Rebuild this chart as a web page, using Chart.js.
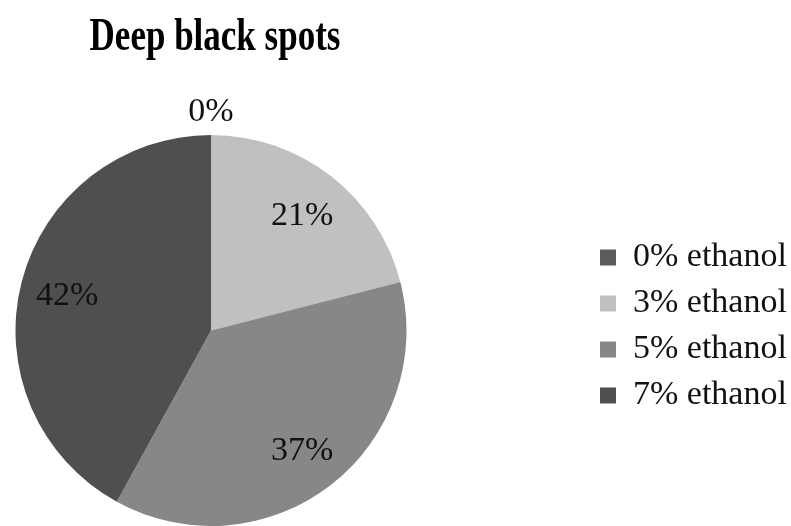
<!DOCTYPE html>
<html>
<head>
<meta charset="utf-8">
<script src="https://cdn.jsdelivr.net/npm/chart.js@4.4.0/dist/chart.umd.min.js"></script>
<style>
html,body{margin:0;padding:0;background:#fff;}
#wrap{width:791px;height:526px;}
</style>
</head>
<body>
<div id="wrap"><canvas id="myChart" width="791" height="526"></canvas></div>
<script>
const labels=["0% ethanol","3% ethanol","5% ethanol","7% ethanol"];
const shares=[0,21,37,42];
const sliceColors=["#5c5c5c","#c0c0c0","#878787","#4f4f4f"];

// percent text on each slice (the empty one sits above the pie)
const pctLabels={
  id:'pctLabels',
  afterDatasetsDraw(chart){
    const ctx=chart.ctx;
    const meta=chart.getDatasetMeta(0);
    ctx.save();
    ctx.font='34px "Liberation Serif"';
    ctx.fillStyle='#111';
    ctx.textAlign='center';
    ctx.textBaseline='middle';
    meta.data.forEach((arc,i)=>{
      const p=arc.getProps(['x','y','startAngle','endAngle','outerRadius'],true);
      const mid=(p.startAngle+p.endAngle)/2;
      const d=shares[i]===0 ? p.outerRadius+26 : p.outerRadius*0.76;
      ctx.fillText(shares[i]+'%',p.x+Math.cos(mid)*d,p.y+Math.sin(mid)*d+3);
    });
    ctx.restore();
  }
};

// legend takes the right part of the canvas, items pushed to the far right
// title gets stretched a bit taller, like the original
const boxTweaks={
  id:'boxTweaks',
  afterInit(chart){
    const lg=chart.legend;
    const fit=lg.fit;
    lg.fit=function(){ fit.call(this); this.width=369; };
    const tb=chart.titleBlock;
    const draw=tb.draw;
    tb.draw=function(){
      const c=this.ctx;
      c.save();
      c.translate(4,38);
      c.scale(1,1.3);
      c.translate(0,-38);
      draw.call(this);
      c.restore();
    };
  },
  afterLayout(chart){
    const lg=chart.legend;
    lg.left=588; lg.right=791;
    lg.top=127; lg.bottom=526;
  }
};

new Chart("myChart",{
  type:"pie",
  data:{
    labels:labels,
    datasets:[{
      data:shares,
      backgroundColor:sliceColors,
      borderWidth:0
    }]
  },
  options:{
    responsive:false,
    animation:false,
    devicePixelRatio:1,
    plugins:{
      title:{
        display:true,
        text:"Deep black spots",
        fullSize:false,
        color:"#000",
        font:{family:"Liberation Serif",size:35,weight:"bold"},
        padding:{top:17,bottom:76}
      },
      legend:{
        position:"right",
        labels:{
          color:"#111",
          font:{family:"Liberation Serif",size:34},
          boxWidth:16,
          boxHeight:16,
          padding:12
        }
      },
      tooltip:{enabled:false}
    }
  },
  plugins:[pctLabels,boxTweaks]
});
</script>
</body>
</html>
